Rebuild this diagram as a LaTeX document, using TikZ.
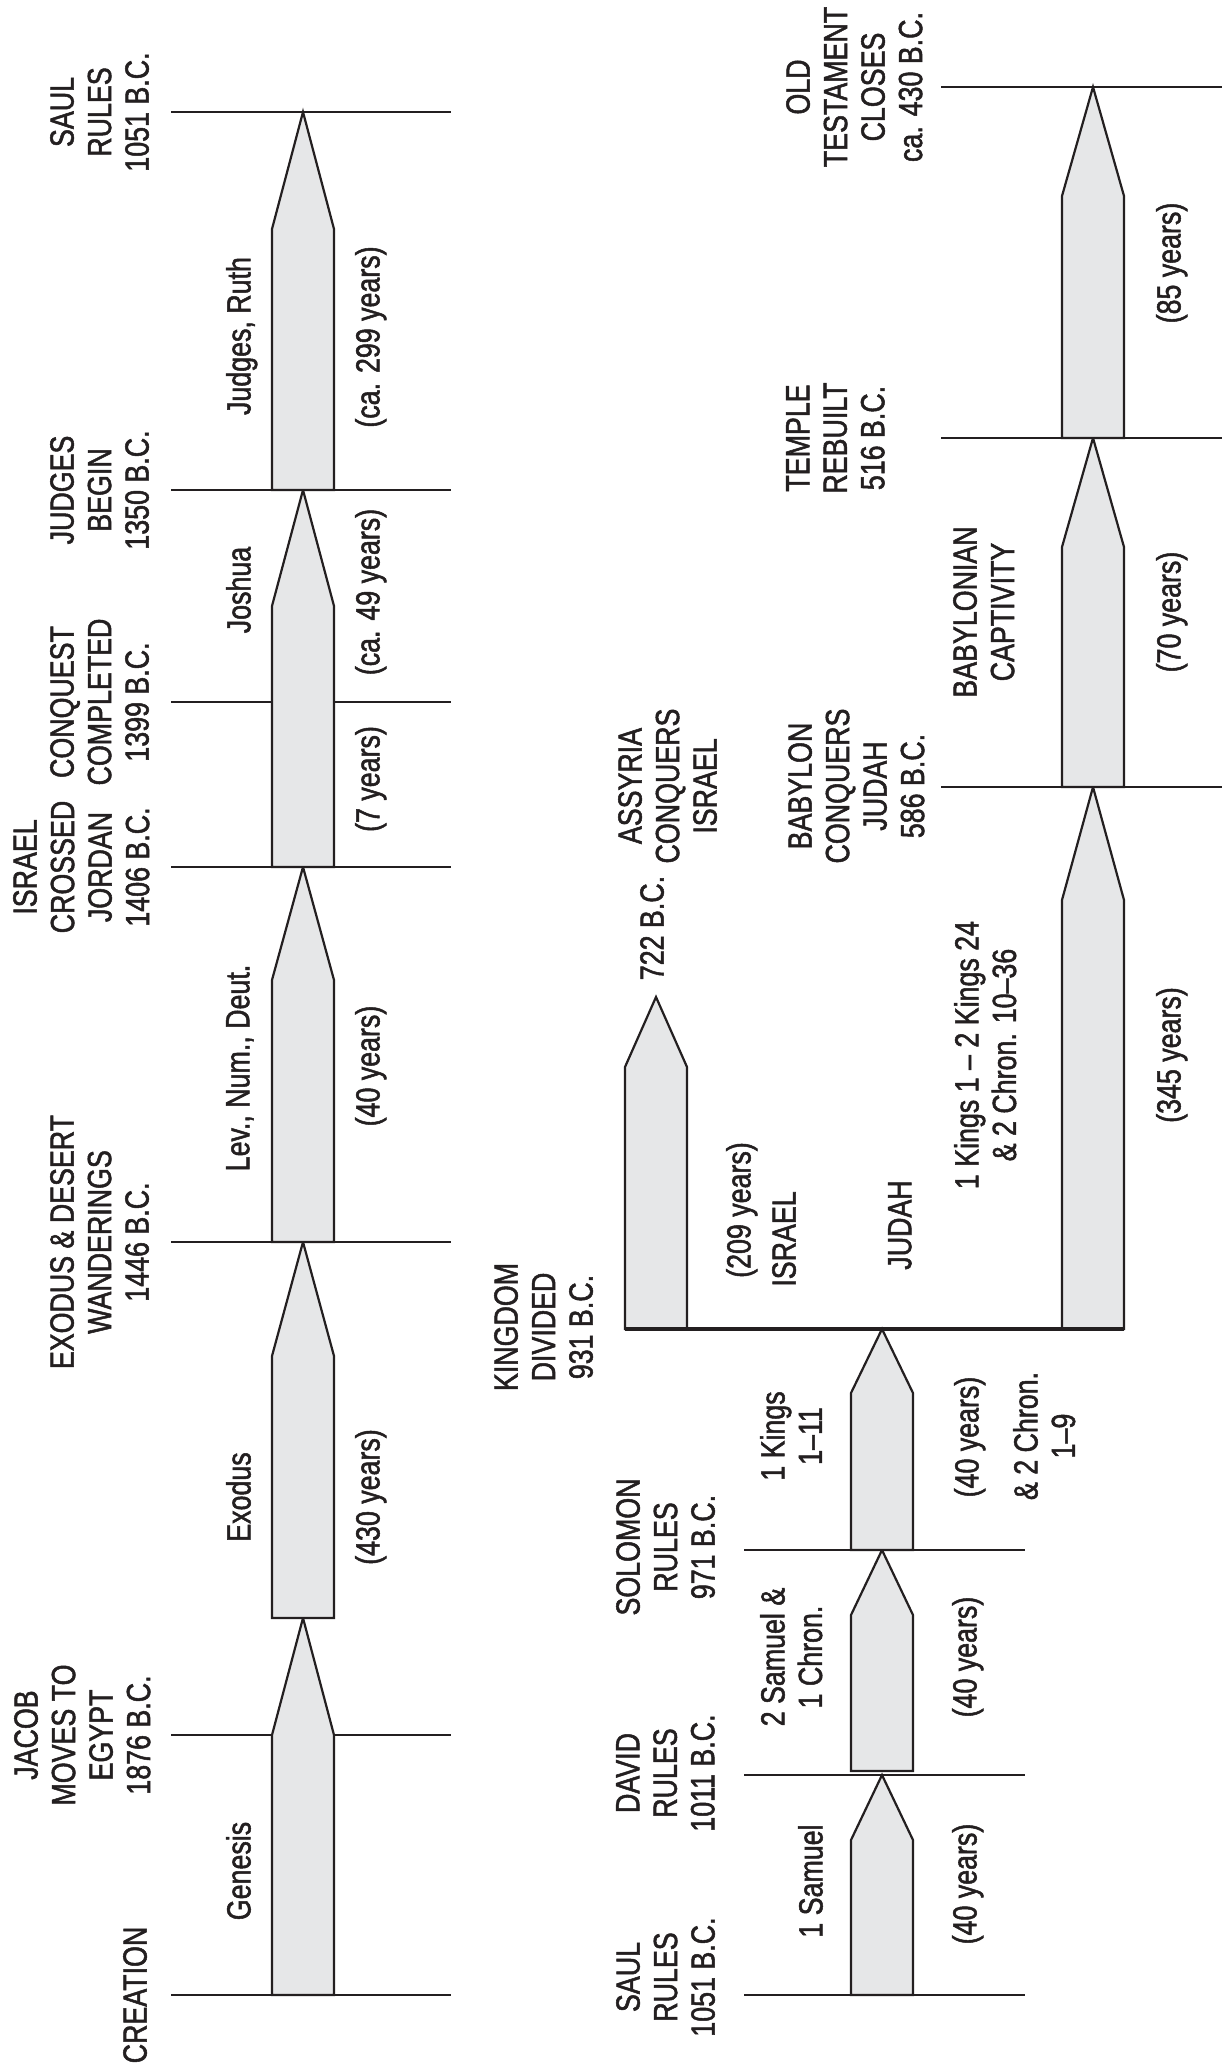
\documentclass[tikz,border=0pt]{standalone}
\usepackage{fontspec}
\setmainfont[FakeStretch=0.8,FakeBold=1.5]{Liberation Sans}
\definecolor{ink}{HTML}{231F20}
\definecolor{boxgray}{HTML}{E6E7E8}
\newcommand{\labfont}{\fontsize{33.5}{37.5}\selectfont}
\newcommand{\tlseg}[5]{\draw[segbox] ({#1-#2},#3) -- ({#1-#2},#4) -- (#1,#5) -- ({#1+#2},#4) -- ({#1+#2},#3) -- cycle;}
\newcommand{\tlhline}[3]{\draw[tline] (#1,#3) -- (#2,#3);}
\tikzset{
  tline/.style={draw=ink, line width=2pt},
  segbox/.style={draw=ink, fill=boxgray, line width=2.2pt, line join=miter},
  kbar/.style={draw=ink, line width=3.6pt},
  lab/.style={rotate=90, anchor=north, inner sep=0pt, align=center, font=\labfont, text=ink},
}
\begin{document}
\begin{tikzpicture}[x=1pt,y=-1pt]
\useasboundingbox (0,0) rectangle (1225,2070);
% ---------- horizontal time lines ----------
% left column
\tlhline{171}{451}{112}
\tlhline{171}{451}{490}
\tlhline{171}{451}{702}
\tlhline{171}{451}{867}
\tlhline{171}{451}{1242}
\tlhline{171}{451}{1735}
\tlhline{171}{451}{1995}
% middle column
\tlhline{744}{1025}{1550}
\tlhline{744}{1025}{1775}
\tlhline{744}{1025}{1995}
% right column
\tlhline{941}{1222}{87}
\tlhline{941}{1222}{438}
\tlhline{941}{1222}{787}
% ---------- period arrows ----------
% left column: center, half width, bottom, shoulder, tip
\tlseg{303}{31}{1995}{1735}{1618}
\tlseg{303}{31}{1618}{1356}{1242}
\tlseg{303}{31}{1242}{980}{867}
\tlseg{303}{31}{867}{606}{490}
\tlseg{303}{31}{490}{229}{112}
% middle column
\tlseg{882}{31}{1995}{1840}{1775}
\tlseg{882}{31}{1771}{1615}{1550}
\tlseg{882}{31}{1550}{1393}{1329}
% divided kingdom
\tlseg{656}{31}{1329}{1067}{997}
\tlseg{1093}{31}{1329}{900}{787}
% right column
\tlseg{1093}{31}{787}{547}{438}
\tlseg{1093}{31}{438}{196}{87}
\draw[kbar] (625,1329) -- (1124,1329);
% ---------- labels: left column ----------
\node[lab] (saulA) at (50,112) {SAUL\\RULES\\1051 B.C.};
\node[lab] (judgesB) at (50,490) {JUDGES\\BEGIN\\1350 B.C.};
\node[lab] (conq) at (50,702) {CONQUEST\\COMPLETED\\1399 B.C.};
\node[lab] (jordan) at (13,867) {ISRAEL\\CROSSED\\JORDAN\\1406 B.C.};
\node[lab] (exodusL) at (50,1242) {EXODUS \& DESERT\\WANDERINGS\\1446 B.C.};
\node[lab] (jacob) at (14,1735) {JACOB\\MOVES TO\\EGYPT\\1876 B.C.};
\node[lab] (creation) at (123,1995) {CREATION};
\node[lab] (bJudges) at (226,336) {Judges, Ruth};
\node[lab] (yJudges) at (355,337) {(ca. 299 years)};
\node[lab] (bJoshua) at (226,590) {Joshua};
\node[lab] (yJoshua) at (355,592) {(ca. 49 years)};
\node[lab] (ySeven) at (355,779) {(7 years)};
\node[lab] (bLev) at (226,1068) {Lev., Num., Deut.};
\node[lab] (yLev) at (355,1066) {(40 years)};
\node[lab] (bExodus) at (226,1497) {Exodus};
\node[lab] (yExodus) at (355,1497) {(430 years)};
\node[lab] (bGenesis) at (226,1871) {Genesis};
% ---------- labels: middle column ----------
\node[lab] (saulB) at (616,1977) {SAUL\\RULES\\1051 B.C.};
\node[lab] (david) at (616,1773) {DAVID\\RULES\\1011 B.C.};
\node[lab] (solomon) at (616,1547) {SOLOMON\\RULES\\971 B.C.};
\node[lab] (bSam1) at (798,1881) {1 Samuel};
\node[lab] (ySam1) at (952,1884) {(40 years)};
\node[lab] (bSam2) at (760,1657) {2 Samuel \&\\1 Chron.};
\node[lab] (ySam2) at (952,1657) {(40 years)};
\node[lab] (bKings) at (760,1436) {1 Kings\\1–11};
\node[lab] (yKings) at (954,1437) {(40 years)};
\node[lab] (bChron) at (1013,1436) {\& 2 Chron.\\1–9};
\node[lab] (kingdom) at (494,1327) {KINGDOM\\DIVIDED\\931 B.C.};
\node[lab] (yIsrael) at (726,1210) {(209 years)};
\node[lab] (nIsrael) at (772,1239) {ISRAEL};
\node[lab] (nJudah) at (888,1225) {JUDAH};
\node[lab] (d722) at (640,928) {722 B.C.};
\node[lab] (assyria) at (618,786) {ASSYRIA\\CONQUERS\\ISRAEL};
\node[lab] (babylon) at (788,786) {BABYLON\\CONQUERS\\JUDAH\\586 B.C.};
\node[lab] (bJudah) at (954,1055) {1 Kings 1 – 2 Kings 24\\\& 2 Chron. 10–36};
\node[lab] (yJudah) at (1156,1055) {(345 years)};
% ---------- labels: right column ----------
\node[lab] (otclose) at (786,87) {OLD\\TESTAMENT\\CLOSES\\ca. 430 B.C.};
\node[lab] (temple) at (786,438) {TEMPLE\\REBUILT\\516 B.C.};
\node[lab] (yOT) at (1156,263) {(85 years)};
\node[lab] (captivity) at (953,612) {BABYLONIAN\\CAPTIVITY};
\node[lab] (yCapt) at (1156,612) {(70 years)};
\end{tikzpicture}
\end{document}
